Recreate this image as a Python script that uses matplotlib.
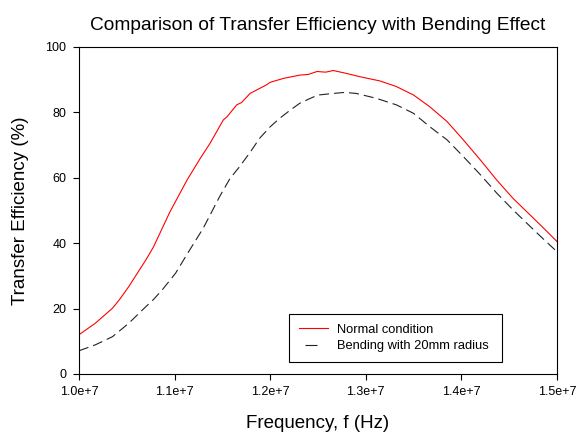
import matplotlib

matplotlib.use("Agg")
import matplotlib.pyplot as plt
from matplotlib.ticker import FixedLocator, FuncFormatter

plt.rcParams["font.family"] = ["Liberation Sans", "DejaVu Sans"]

# Frecuencia en MHz (se multiplica por 1e6 al graficar)
freq_normal = [10.00, 10.17, 10.35, 10.43, 10.52, 10.70, 10.78, 10.95, 11.13, 11.27,
               11.37, 11.51, 11.55, 11.65, 11.70, 11.79, 11.96, 12.00, 12.14, 12.31,
               12.40, 12.49, 12.58, 12.66, 12.80, 12.94, 13.15, 13.32, 13.50, 13.67,
               13.85, 14.02, 14.20, 14.37, 14.54, 14.72, 14.86, 15.00]
eff_normal = [12.0, 15.5, 20.1, 23.0, 26.7, 34.9, 38.9, 49.5, 59.3, 66.0,
              70.5, 77.7, 78.7, 82.3, 83.0, 85.8, 88.4, 89.2, 90.4, 91.4,
              91.6, 92.5, 92.3, 92.8, 91.9, 90.9, 89.6, 87.9, 85.3, 81.7,
              77.2, 71.6, 65.4, 59.3, 53.7, 48.6, 44.6, 40.5]

freq_bending = [10.00, 10.17, 10.35, 10.52, 10.70, 10.78, 10.87, 11.01, 11.13, 11.30,
                11.47, 11.58, 11.68, 11.79, 11.89, 12.00, 12.10, 12.21, 12.31, 12.42,
                12.50, 12.66, 12.78, 12.90, 13.11, 13.32, 13.50, 13.67, 13.85, 14.02,
                14.20, 14.37, 14.54, 14.72, 14.86, 15.00]
eff_bending = [7.1, 8.9, 11.4, 15.5, 20.6, 22.8, 25.7, 30.8, 36.6, 44.6,
               54.2, 59.8, 63.4, 67.8, 72.1, 75.6, 78.2, 80.7, 82.8, 84.3,
               85.3, 85.8, 86.1, 85.8, 84.3, 82.3, 79.7, 75.6, 71.6, 66.5,
               60.9, 55.3, 50.2, 45.1, 41.2, 37.4]

x_ticks = [1.0e7, 1.1e7, 1.2e7, 1.3e7, 1.4e7, 1.5e7]
y_ticks = [0, 20, 40, 60, 80, 100]

LW = 0.8


def px_a_dash(px: float) -> float:
    # longitud en pixeles -> unidades de dash (escaladas por el grosor)
    return px * 72 / 100 / LW


fig = plt.figure(figsize=(5.86, 4.33), dpi=100)
ax = fig.add_axes([0.1348, 0.1363, 0.8157, 0.7552])

ax.plot([f * 1e6 for f in freq_normal], eff_normal, color="#ff0000",
        linewidth=LW, label="Normal condition")
ax.plot([f * 1e6 for f in freq_bending], eff_bending, color="#222222",
        linewidth=LW, label="Bending with 20mm radius",
        linestyle=(0, (px_a_dash(10), px_a_dash(5))))

ax.set_xlim(1.0e7, 1.5e7)
ax.set_ylim(0, 100)
ax.xaxis.set_major_locator(FixedLocator(x_ticks))
ax.xaxis.set_major_formatter(FuncFormatter(lambda v, p: f"{v:.1e}".replace("e+0", "e+")))
ax.yaxis.set_major_locator(FixedLocator(y_ticks))
ax.tick_params(direction="out", length=4, width=0.8, labelsize=9, pad=5)

for spine in ax.spines.values():
    spine.set_linewidth(0.8)

ax.set_title("Comparison of Transfer Efficiency with Bending Effect",
             fontsize=13.8, pad=12)
ax.set_xlabel("Frequency, f (Hz)", fontsize=13.5, labelpad=12)
ax.set_ylabel("Transfer Efficiency (%)", fontsize=13.5, labelpad=12)

leg = ax.legend(loc="lower left", bbox_to_anchor=(0.439, 0.037, 0.446, 0.15),
                mode="expand", borderaxespad=0, fontsize=9.3, handlelength=2.3,
                handletextpad=0.7, fancybox=False, framealpha=1, edgecolor="black",
                borderpad=0.75, labelspacing=0.35)
leg.get_frame().set_linewidth(0.8)
# el simbolo de la curva con flexion muestra un solo trazo centrado
leg.get_lines()[1].set_linestyle((px_a_dash(37), (px_a_dash(12), px_a_dash(31))))

fig.savefig("out.png", dpi=100, facecolor="white")
